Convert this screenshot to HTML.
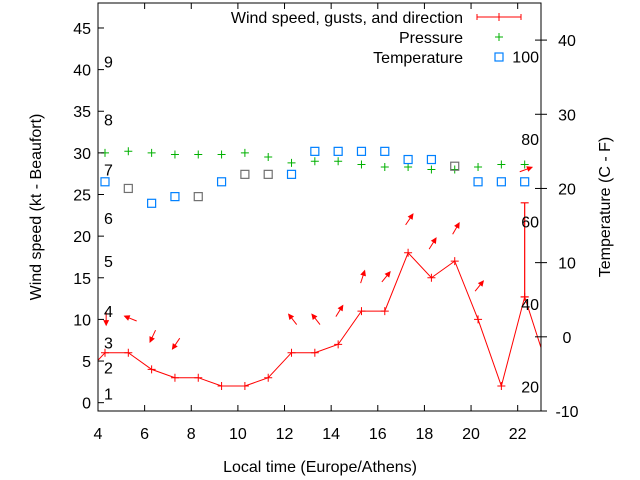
<!DOCTYPE html>
<html><head><meta charset="utf-8"><style>
body{margin:0;background:#fff}
svg{display:block;font-family:"Liberation Sans",sans-serif;font-size:16px}
</style></head><body>
<svg id="c" width="640" height="480" xmlns="http://www.w3.org/2000/svg"></svg>
<script>
const hours=[3.3,4.3,5.3,6.3,7.3,8.3,9.3,10.3,11.3,12.3,13.3,14.3,15.3,16.3,17.3,18.3,19.3,20.3,21.3,22.3,23.3];
const windKt=[3,6,6,4,3,3,2,2,3,6,6,7,11,11,18,15,17,10,2,12.7,4];
const gustHour=[22.3];
const gustLow=[12.7];
const gustHigh=[24];
const arrowHours=[4.35,5.4,6.35,7.35,12.35,13.35,14.35,15.35,16.35,17.35,18.35,19.35,20.35,22.35];
const arrowVals=[10.1,10.1,8,7.1,10,10,11,15.1,15.1,22,19.1,20.9,14,28];
const arrowDirs=[90,202,115,124,232,232,302,288,309,304,302,300,309,340];
const pressHours=[4.3,5.3,6.3,7.3,8.3,9.3,10.3,11.3,12.3,13.3,14.3,15.3,16.3,17.3,18.3,19.3,20.3,21.3,22.3];
const pressVals=[30.0,30.2,30.0,29.8,29.8,29.8,30.0,29.5,28.8,29.0,29.0,28.6,28.3,28.3,28.0,28.0,28.3,28.6,28.6];
const tempHours=[4.3,5.3,6.3,7.3,8.3,9.3,10.3,11.3,12.3,13.3,14.3,15.3,16.3,17.3,18.3,19.3,20.3,21.3,22.3];
const tempVals=[20.9,20.0,18.0,18.9,18.9,20.9,21.9,21.9,21.9,25,25,25,25,23.9,23.9,23.0,20.9,20.9,20.9];
const tempGray=[0,1,0,0,1,0,1,1,0,0,0,0,0,0,0,1,0,0,0];
const xTicks=[4,6,8,10,12,14,16,18,20,22];
const yTicks=[0,5,10,15,20,25,30,35,40,45];
const y2Ticks=[-10,0,10,20,30,40];
const bftLabels=["1","2","3","4","5","6","7","8","9"];
const bftVals=[1.1,4.2,7.2,11,17,22.2,28,34,41];
const fLabels=["20","40","60","80","100"];
const fVals=[20,40,60,80,100];

const L=98,R=541,T=3,B=411;
const X=h=>L+(h-4)/(23-4)*(R-L);
const Y=v=>B-(v+1)/(48+1)*(B-T);
const Y2=v=>B-(v+10)/(45+10)*(B-T);
const NS="http://www.w3.org/2000/svg";
const svg=document.getElementById('c');
function mk(tag,at,parent){const e=document.createElementNS(NS,tag);for(const k in at)e.setAttribute(k,at[k]);(parent||svg).appendChild(e);return e;}
function txt(s,x,y,anchor){const t=mk('text',{x:x,y:y,'text-anchor':anchor||'start'});t.textContent=s;return t;}

const clip=mk('clipPath',{id:'pc'});mk('rect',{x:L,y:T,width:R-L,height:B-T},clip);
const plot=mk('g',{'clip-path':'url(#pc)'});



const fr=mk('rect',{x:L,y:T,width:R-L,height:B-T,fill:'none',stroke:'#000','stroke-width':1});



xTicks.forEach(h=>{
  const x=X(h);
  mk('line',{x1:x,y1:B,x2:x,y2:B-6,stroke:'#000'});
  mk('line',{x1:x,y1:T,x2:x,y2:T+6,stroke:'#000'});
  const t=txt(String(h),x,439,'middle');
  
  
});
yTicks.forEach(v=>{
  const y=Y(v);
  mk('line',{x1:L,y1:y,x2:L+6,y2:y,stroke:'#000'});
  const t=txt(String(v),91,y+6,'end');
  
  
});
y2Ticks.forEach(v=>{
  const y=Y2(v);
  mk('line',{x1:R-6,y1:y,x2:R+6,y2:y,stroke:'#000'});
  const t=txt(String(v),567,y+6,'middle');
  
  
});
bftLabels.forEach((s,i)=>{
  const t=txt(s,104,Y(bftVals[i])+6,'start');
  
  
});
fLabels.forEach((s,i)=>{
  const c=(fVals[i]-32)*5/9;
  const t=txt(s,539,Y2(c)+6,'end');
  
  
});

pressHours.forEach((h,i)=>{
  const x=X(h),y=Y(pressVals[i]);
  const p=mk('path',{d:`M${x-4},${y}H${x+4}M${x},${y-4}V${y+4}`,stroke:'#00b000','stroke-width':1},plot);
  
  
});
tempHours.forEach((h,i)=>{
  const x=X(h),y=Y2(tempVals[i]);
  const r=mk('rect',{x:x-4,y:y-4,width:8,height:8,fill:'none',stroke:tempGray[i]?'#707070':'#0080ff','stroke-width':1.2},plot);
  
  
});
const wl=mk('polyline',{points:hours.map((h,i)=>X(h)+','+Y(windKt[i])).join(' '),fill:'none',stroke:'#f00','stroke-width':1},plot);


hours.forEach((h,i)=>{
  const x=X(h),y=Y(windKt[i]);
  const p=mk('path',{d:`M${x-4},${y}H${x+4}M${x},${y-4}V${y+4}`,stroke:'#f00','stroke-width':1},plot);
  
  
});
gustHour.forEach((h,i)=>{
  const x=X(h),y1=Y(gustLow[i]),y2=Y(gustHigh[i]);
  const p=mk('path',{d:`M${x},${y1}V${y2}M${x-4},${y1}H${x+4}M${x-4},${y2}H${x+4}`,stroke:'#f00','stroke-width':1.2},plot);
  
  
});
arrowHours.forEach((h,i)=>{
  const cx=X(h),cy=Y(arrowVals[i]),a=arrowDirs[i]*Math.PI/180,len=13;
  const dx=Math.cos(a)*len/2,dy=Math.sin(a)*len/2;
  const x1=cx-dx,y1=cy-dy,x2=cx+dx,y2=cy+dy;
  const g=mk('g',{},plot);
  
  
  mk('line',{x1:x1,y1:y1,x2:x2,y2:y2,stroke:'#f00','stroke-width':1},g);
  const hl=5,hw=0.45;
  const p1=[x2-Math.cos(a-hw)*hl,y2-Math.sin(a-hw)*hl],p2=[x2-Math.cos(a+hw)*hl,y2-Math.sin(a+hw)*hl];
  mk('polygon',{points:`${x2},${y2} ${p1} ${p2}`,fill:'#f00',stroke:'#f00'},g);
});

const lg=mk('g',{});


let t=txt('Wind speed, gusts, and direction',463,23,'end');lg.appendChild(t);
mk('path',{d:'M477,17H521M477,14V20M521,14V20M499,13V21',stroke:'#f00'},lg);
t=txt('Pressure',463,43,'end');lg.appendChild(t);
mk('path',{d:'M495,37H503M499,33V41',stroke:'#00b000'},lg);
t=txt('Temperature',463,63,'end');lg.appendChild(t);
mk('rect',{x:495,y:53,width:8,height:8,fill:'none',stroke:'#0080ff','stroke-width':1.2},lg);

t=txt('Local time (Europe/Athens)',320,472,'middle');


t=txt('Wind speed (kt - Beaufort)',0,0,'middle');
t.setAttribute('transform','translate(41,207) rotate(-90)');


t=txt('Temperature (C - F)',0,0,'middle');
t.setAttribute('transform','translate(610,207) rotate(-90)');


</script>
</body></html>
